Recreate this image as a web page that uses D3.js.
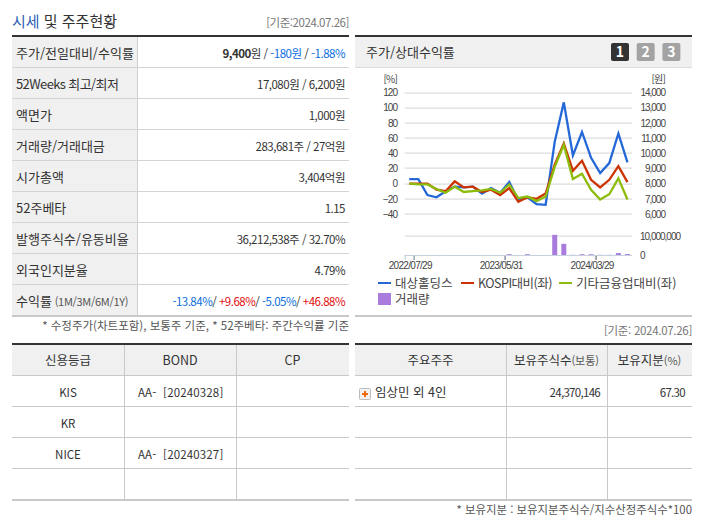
<!DOCTYPE html>
<html lang="ko">
<head>
<meta charset="utf-8">
<script src="https://cdn.jsdelivr.net/npm/d3@7"></script>
<style>
  html, body { margin: 0; padding: 0; background: #fff; }
  svg { display: block; font-family: "Noto Sans CJK KR", "Noto Sans", sans-serif; }
  text { white-space: pre; }
  .axis text { font-family: "Liberation Sans", sans-serif; font-size: 10px; fill: #444; letter-spacing: -1px; }
  .axis.dates text { letter-spacing: -0.7px; }
</style>
</head>
<body>
<div id="chart"></div>
<script>
// chart data
const dates = ["2022/07/29","","","","","","","","","","2023/05/31","","","","","","","","","","2024/03/29","","","",""];
const holdings = [6,6,-15,-18,-10,-4,-5,-4,-13,-6,-12,2,-22,-18,-27,-28,55,107,37,68,34,14,27,66,28];
const kospi = [0,0,0,-8,-10,3,-5,-4,-11,-8,-15,-6,-24,-18,-20,-13,25,53,17,30,5,-5,5,23,2];
const finance = [0,-1,-1,-7,-12,-4,-11,-10,-9,-7,-12,-1,-19,-17,-23,-17,22,51,6,13,-8,-21,-14,7,-21];
const volume = [0.02,0.02,0.02,0.02,0.02,0.02,0.02,0.02,0.02,0.02,0.02,0.4,0.02,0.4,0.02,0.02,10.6,5.9,0.1,0.4,0.4,0.1,0.1,1,0.5];
const pctTicks = [120,100,80,60,40,20,0,-20,-40];
const priceTicks = [14000,13000,12000,11000,10000,9000,8000,7000,6000];
const volTicks = [10,0];
const seriesNames = ["대상홀딩스","KOSPI대비(좌)","기타금융업대비(좌)","거래량"];
const seriesColors = ["#2468d8","#cc3300","#8cbc0c","#a87bdc"];

// table data
const infoLabels = ["주가/전일대비/수익률","52Weeks 최고/최저","액면가","거래량/거래대금","시가총액","52주베타","발행주식수/유동비율","외국인지분율","수익률"];
const infoValues = [
  [["9,400","#333",700],["원 / ","#333"],["-180원","#0a6ee0"],[" / ","#333"],["-1.88%","#0a6ee0"]],
  [["17,080원 / 6,200원","#333"]],
  [["1,000원","#333"]],
  [["283,681주 / 27억원","#333"]],
  [["3,404억원","#333"]],
  [["1.15","#333"]],
  [["36,212,538주 / 32.70%","#333"]],
  [["4.79%","#333"]],
  [["-13.84%","#0a6ee0"],["/ ","#333"],["+9.68%","#e01010"],["/ ","#333"],["-5.05%","#0a6ee0"],["/ ","#333"],["+46.88%","#e01010"]]
];
const creditHeader = ["신용등급","BOND","CP"];
const creditUnits = ["","",""];
const creditRows = [["KIS","AA-  [20240328]",""],["KR","",""],["NICE","AA-  [20240327]",""],["","",""]];
const ownerHeader = ["주요주주","보유주식수","보유지분"];
const ownerUnits = ["","(보통)","(%)"];
const ownerRows = [["임상민 외 4인","24,370,146","67.30"],["","",""],["","",""],["","",""]];

const svg = d3.select("#chart").append("svg").attr("width", 702).attr("height", 525);
const DARK = "#333", LINE = "#c9c9c9", HEAD_BG = "#f0f0f0", GRID = "#dcdcdc";

function txt(x, y, s, size, anchor, fill, spacing) {
  return svg.append("text").attr("x", x).attr("y", y)
    .attr("text-anchor", anchor || "start").attr("font-size", size || 12)
    .attr("letter-spacing", spacing || 0)
    .attr("fill", fill || DARK).text(s);
}
function rect(x, y, w, h, fill) {
  return svg.append("rect").attr("x", x).attr("y", y).attr("width", w).attr("height", h).attr("fill", fill);
}

// 제목
const title = txt(12, 27, "", 15);
title.append("tspan").attr("fill", "#2f5fb5").text("시세");
title.append("tspan").text(" 및 주주현황");
txt(349, 27, "[기준:2024.07.26]", 11.5, "end", "#777", -0.45);

// 시세 테이블
const rowH = 31;
rect(12, 37, 125, rowH * 9, HEAD_BG);
infoLabels.forEach((label, i) => {
  const y = 37 + rowH * i;
  const t = txt(16, y + 20.5, label, 13, "start", DARK, i === 1 ? -0.6 : 0);
  if (i === 8) t.append("tspan").attr("font-size", 11).attr("fill", "#555").attr("letter-spacing", -0.3).text(" (1M/3M/6M/1Y)");
  const v = svg.append("text").attr("x", 345).attr("y", y + 20.5).attr("text-anchor", "end")
    .attr("font-size", 11.5).attr("letter-spacing", -0.5);
  infoValues[i].forEach(p => {
    v.append("tspan").attr("fill", p[1]).attr("font-weight", p[2] || 400).text(p[0]);
  });
  if (i < 8) rect(12, y + rowH - 1, 337, 1, "#d4d4d4");
});
rect(137, 37, 1, rowH * 9, "#cfcfcf");
rect(12, 35, 337, 2, DARK);
rect(12, 315, 337, 2, LINE);
txt(349, 330, "* 수정주가(차트포함), 보통주 기준, * 52주베타: 주간수익률 기준", 11.5, "end", "#555");

// 차트 패널
rect(355, 37, 337, 30, HEAD_BG);
rect(355, 35, 337, 2, DARK);
rect(355, 67, 337, 1, "#dcdcdc");
txt(366, 57, "주가/상대수익률", 13);
["1","2","3"].forEach((n, i) => {
  const bx = 611 + i * 25.7;
  svg.append("rect").attr("x", bx).attr("y", 43).attr("width", 18).attr("height", 18).attr("rx", 2)
    .attr("fill", i === 0 ? "#333" : "#a3a3a3");
  txt(bx + 9, 57, n, 14, "middle", "#fff").attr("font-weight", 700);
});
rect(355, 315, 337, 2, LINE);
txt(692, 335, "[기준: 2024.07.26]", 11.5, "end", "#777", -0.3);

const x = d3.scaleBand().domain(d3.range(dates.length)).range([404.7, 632]);
const yPct = d3.scaleLinear().domain([-40, 120]).range([214, 92.5]);
const yPrice = d3.scaleLinear().domain([6000, 14000]).range([214, 92.5]);
const yVol = d3.scaleLinear().domain([0, 10]).range([255, 236]);

// 그리드
svg.append("g").selectAll("rect").data(pctTicks).join("rect")
  .attr("x", 404.7).attr("width", 227.3)
  .attr("y", d => Math.round(yPct(d)) - 0.5).attr("height", 1.2).attr("fill", GRID);
svg.append("g").selectAll("rect").data(volTicks.filter(d => d > 0)).join("rect")
  .attr("x", 404.7).attr("width", 227.3)
  .attr("y", d => Math.round(yVol(d)) - 0.5).attr("height", 1.2).attr("fill", GRID);

svg.append("g").attr("class", "axis").attr("transform", "translate(397,0)")
  .call(d3.axisLeft(yPct).tickValues(pctTicks).tickSize(0).tickPadding(0));
svg.append("g").attr("class", "axis").attr("transform", "translate(665,0)")
  .call(d3.axisLeft(yPrice).tickValues(priceTicks).tickFormat(d3.format(",")).tickSize(0).tickPadding(0));
svg.append("g").attr("class", "axis").attr("transform", "translate(640,0)")
  .call(d3.axisRight(yVol).tickValues(volTicks).tickFormat(d => d3.format(",")(d * 1000000)).tickSize(0).tickPadding(0));
svg.selectAll(".axis path").remove();
txt(397, 83, "[%]", 10, "end", "#444", -0.8);
txt(665, 83, "[원]", 10, "end", "#444", -0.8);

// 거래량 막대
svg.append("g").selectAll("rect").data(volume).join("rect")
  .attr("x", (d, i) => x(i) + x.bandwidth() / 2 - 2.5)
  .attr("y", d => yVol(d))
  .attr("width", 5)
  .attr("height", d => yVol(0) - yVol(d))
  .attr("fill", seriesColors[3]);

// 선
const line = d3.line().x((d, i) => x(i) + x.bandwidth() / 2).y(d => yPct(d));
[holdings, kospi, finance].forEach((s, i) => {
  svg.append("path").datum(s).attr("d", line).attr("fill", "none")
    .attr("stroke", seriesColors[i]).attr("stroke-width", 2.3);
});

// x축
const tickIdx = dates.map((d, i) => d ? i : -1).filter(i => i >= 0);
svg.append("g").attr("class", "axis dates").attr("transform", "translate(0,255)")
  .call(d3.axisBottom(d3.scaleLinear().domain([0, dates.length]).range([404.7, 632]))
    .tickValues(tickIdx.map(i => i + 1)).tickFormat(d => dates[d - 1]).tickSize(5).tickPadding(2))
  .call(g => g.selectAll(".tick text").attr("dx", -4))
  .call(g => g.select("path").remove());
rect(404.7, 255, 227.3, 1, "#c6d2de");
svg.append("g").selectAll("rect").data([-1].concat(tickIdx)).join("rect")
  .attr("x", d => x.range()[0] + (d + 1) * x.bandwidth())
  .attr("y", 255).attr("width", 1).attr("height", 5).attr("fill", "#b8c8d8");

// 범례
const legend = [[378, 283], [461, 283], [559, 283]];
legend.forEach((p, i) => {
  rect(p[0], p[1] - 1, 13, 2, seriesColors[i]);
  txt(p[0] + 17, p[1] + 4.5, seriesNames[i], 12.5, "start", "#444", i === 1 ? -0.5 : 0);
});
rect(378, 293, 13, 12, seriesColors[3]);
txt(395, 304, seriesNames[3], 12.5, "start", "#444");

// 하단 테이블
function bottomTable(x0, x1, divs, header, units) {
  rect(x0, 344, x1 - x0, 31, HEAD_BG);
  rect(x0, 343, x1 - x0, 2, DARK);
  rect(x0, 375, x1 - x0, 1, LINE);
  d3.range(1, 4).forEach(i => rect(x0, 375 + rowH * i, x1 - x0, 1, LINE));
  rect(x0, 499, x1 - x0, 2, LINE);
  divs.forEach(d => rect(d, 345, 1, 155, LINE));
  const edges = [x0].concat(divs, [x1]);
  header.forEach((h, j) => {
    const t = txt((edges[j] + edges[j + 1]) / 2, 365, h, 12.5, "middle");
    if (units[j]) t.append("tspan").attr("font-size", 11).attr("fill", "#555").text(units[j]);
  });
  return edges;
}
const e1 = bottomTable(12, 349, [124, 236], creditHeader, creditUnits);
creditRows.forEach((r, i) => {
  const y = 397 + rowH * i;
  txt((e1[0] + e1[1]) / 2, y, r[0], 11.5, "middle");
  txt(138, y, r[1], 11.5, "start", DARK, 0.15);
});

bottomTable(355, 692, [506, 607], ownerHeader, ownerUnits);
ownerRows.forEach((r, i) => {
  const y = 397 + rowH * i;
  txt(375, y, r[0], 12.5);
  txt(600, y, r[1], 11.5, "end", DARK, -0.7);
  txt(685, y, r[2], 11.5, "end", DARK, -0.7);
});
// + 아이콘
svg.append("rect").attr("x", 359.5).attr("y", 388.5).attr("width", 11).attr("height", 11).attr("rx", 1)
  .attr("fill", "#f2f2f2").attr("stroke", "#bbb");
rect(362, 393, 6, 2, "#f06a10");
rect(364, 391, 2, 6, "#f06a10");

txt(692, 514, "* 보유지분 : 보유지분주식수/지수산정주식수*100", 11.4, "end", "#555");
</script>
</body>
</html>
